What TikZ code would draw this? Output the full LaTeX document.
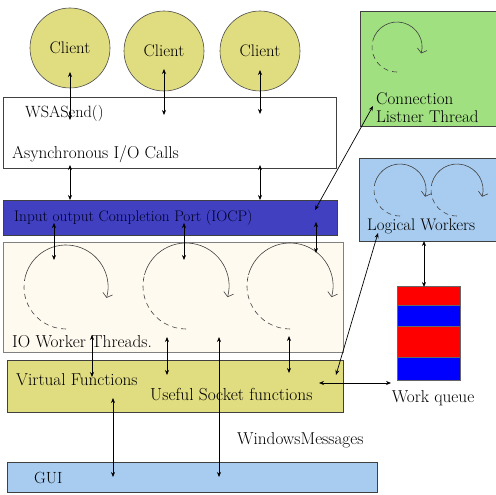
\documentclass[tikz,border=0pt]{standalone}
\usepackage{fontspec}
\usetikzlibrary{arrows.meta}
\definecolor{cyel}{RGB}{224,220,128}
\definecolor{iocpc}{RGB}{64,64,192}
\definecolor{iofill}{RGB}{255,250,240}
\definecolor{lgreen}{RGB}{160,224,128}
\definecolor{lblue}{RGB}{168,204,240}
\definecolor{qred}{RGB}{255,0,0}
\definecolor{qblue}{RGB}{0,0,255}
\newcommand\ioloop[3]{%
  \draw[loopd] (#1,#2) ++(-270:#3) arc[start angle=-270, end angle=-165, radius=#3];
  \draw[loops] (#1,#2) ++(-165:#3) arc[start angle=-165, end angle=15, radius=#3];}
\newcommand\fs[1]{\fontsize{#1}{#1}\selectfont}
\begin{document}
\begin{tikzpicture}[x=1pt,y=-1pt,
  font=\fs{16},
  box/.style={draw=black!75, line width=0.7pt, inner sep=0pt, anchor=north west},
  lbl/.style={anchor=west, inner sep=0pt, text=black},
  dbl/.style={{Stealth[length=5pt,width=4pt]}-{Stealth[length=5pt,width=4pt]}, line width=0.7pt},
  loopd/.style={line width=0.6pt, dash pattern=on 5pt off 4pt, draw=black!75},
  loops/.style={line width=0.6pt, draw=black!75, -{Straight Barb[length=4pt,width=10pt]}},
  client/.style={circle, draw=black!70, line width=0.6pt, fill=cyel, minimum size=80pt, inner sep=0pt, font=\fs{16.8}},
  qcell/.style={draw=black!60, line width=0.4pt, inner sep=0pt, anchor=north west, minimum width=63pt}
]
\useasboundingbox (0,0) rectangle (496,495);

% clients
\node[client] (c1) at (70,48) {Client};
\node[client] (c2) at (164,51) {Client};
\node[client] (c3) at (260,51) {Client};

% boxes
\node[box, fill=white, minimum width=333pt, minimum height=71pt] (wsa) at (3,97) {};
\node[box, fill=iocpc, minimum width=334pt, minimum height=35pt] (iocp) at (3,200) {};
\node[box, fill=iofill, draw=black!50, minimum width=340pt, minimum height=110pt] (iow) at (3,242) {};
\node[box, fill=cyel, minimum width=336pt, minimum height=52pt] (virt) at (7,360) {};
\node[box, fill=lblue, minimum width=370pt, minimum height=30pt] (gui) at (7,462) {};
\node[box, fill=lgreen, minimum width=140pt, minimum height=115pt] (conn) at (360,11) {};
\node[box, fill=lblue, minimum width=140pt, minimum height=83pt] (logw) at (359,158) {};

% work queue
\node[qcell, fill=qred, minimum height=19pt] (q1) at (397,286) {};
\node[qcell, fill=qblue, minimum height=21pt] (q2) at (397,305) {};
\node[qcell, fill=qred, minimum height=31pt] (q3) at (397,326) {};
\node[qcell, fill=qblue, minimum height=23pt] (q4) at (397,357) {};

% loops
\ioloop{66}{287}{42}
\ioloop{186}{286}{43}
\ioloop{290}{286}{43}
\ioloop{397}{47}{25}
\ioloop{400}{190}{26}
\ioloop{457}{190}{26}

% labels
\node[lbl, font=\fs{16.3}] (twsa) at (25,113) {WSASend()};
\node[lbl, font=\fs{17.2}] (tasync) at (12,154) {Asynchronous I/O Calls};
\node[lbl, font=\fs{15.3}, text=black!85!blue] (tiocp) at (14,218) {Input output Completion Port (IOCP)};
\node[lbl, font=\fs{17.3}] (tiow) at (12,342) {IO Worker Threads.};
\node[lbl, align=left, font=\fs{17}, text depth=0pt] (tconn) at (376,108) {Connection\\[1pt]Listner Thread};
\node[lbl, font=\fs{16.8}] (tlogw) at (367,226) {Logical Workers};
\node[inner sep=0pt, text=black, font=\fs{17.2}] (tq) at (433,398) {Work queue};
\node[lbl, font=\fs{17.2}] (tvirt) at (16,380) {Virtual Functions};
\node[lbl, font=\fs{17.4}] (tsock) at (150,395) {Useful Socket functions};
\node[lbl, font=\fs{17.2}] (twin) at (237,440) {WindowsMessages};
\node[lbl, font=\fs{16.2}] (tgui) at (34,478) {GUI};

% connector end points
\coordinate (a1) at (70,72);   \coordinate (b1) at (70,120);
\coordinate (a2) at (164,69);  \coordinate (b2) at (164,115);
\coordinate (a3) at (260,70);  \coordinate (b3) at (260,114);
\coordinate (a4) at (70,165);  \coordinate (b4) at (70,200);
\coordinate (a5) at (260,165); \coordinate (b5) at (260,200);
\coordinate (a6) at (54,223);  \coordinate (b6) at (54,260);
\coordinate (a7) at (184,223); \coordinate (b7) at (184,260);
\coordinate (a8) at (316,222); \coordinate (b8) at (316,253);
\coordinate (a9) at (315,210); \coordinate (b9) at (373,106);
\coordinate (a10) at (92,335); \coordinate (b10) at (92,377);
\coordinate (a11) at (167,337); \coordinate (b11) at (167,375);
\coordinate (a12) at (289,336); \coordinate (b12) at (289,373);
\coordinate (a13) at (219,337); \coordinate (b13) at (219,477);
\coordinate (a14) at (113,398); \coordinate (b14) at (113,477);
\coordinate (a15) at (378,233); \coordinate (b15) at (336,375);
\coordinate (a16) at (424,241); \coordinate (b16) at (424,287);
\coordinate (a17) at (319,383); \coordinate (b17) at (391,383);

\foreach \i in {1,...,17} { \draw[dbl] (a\i) -- (b\i); }
\end{tikzpicture}
\end{document}
